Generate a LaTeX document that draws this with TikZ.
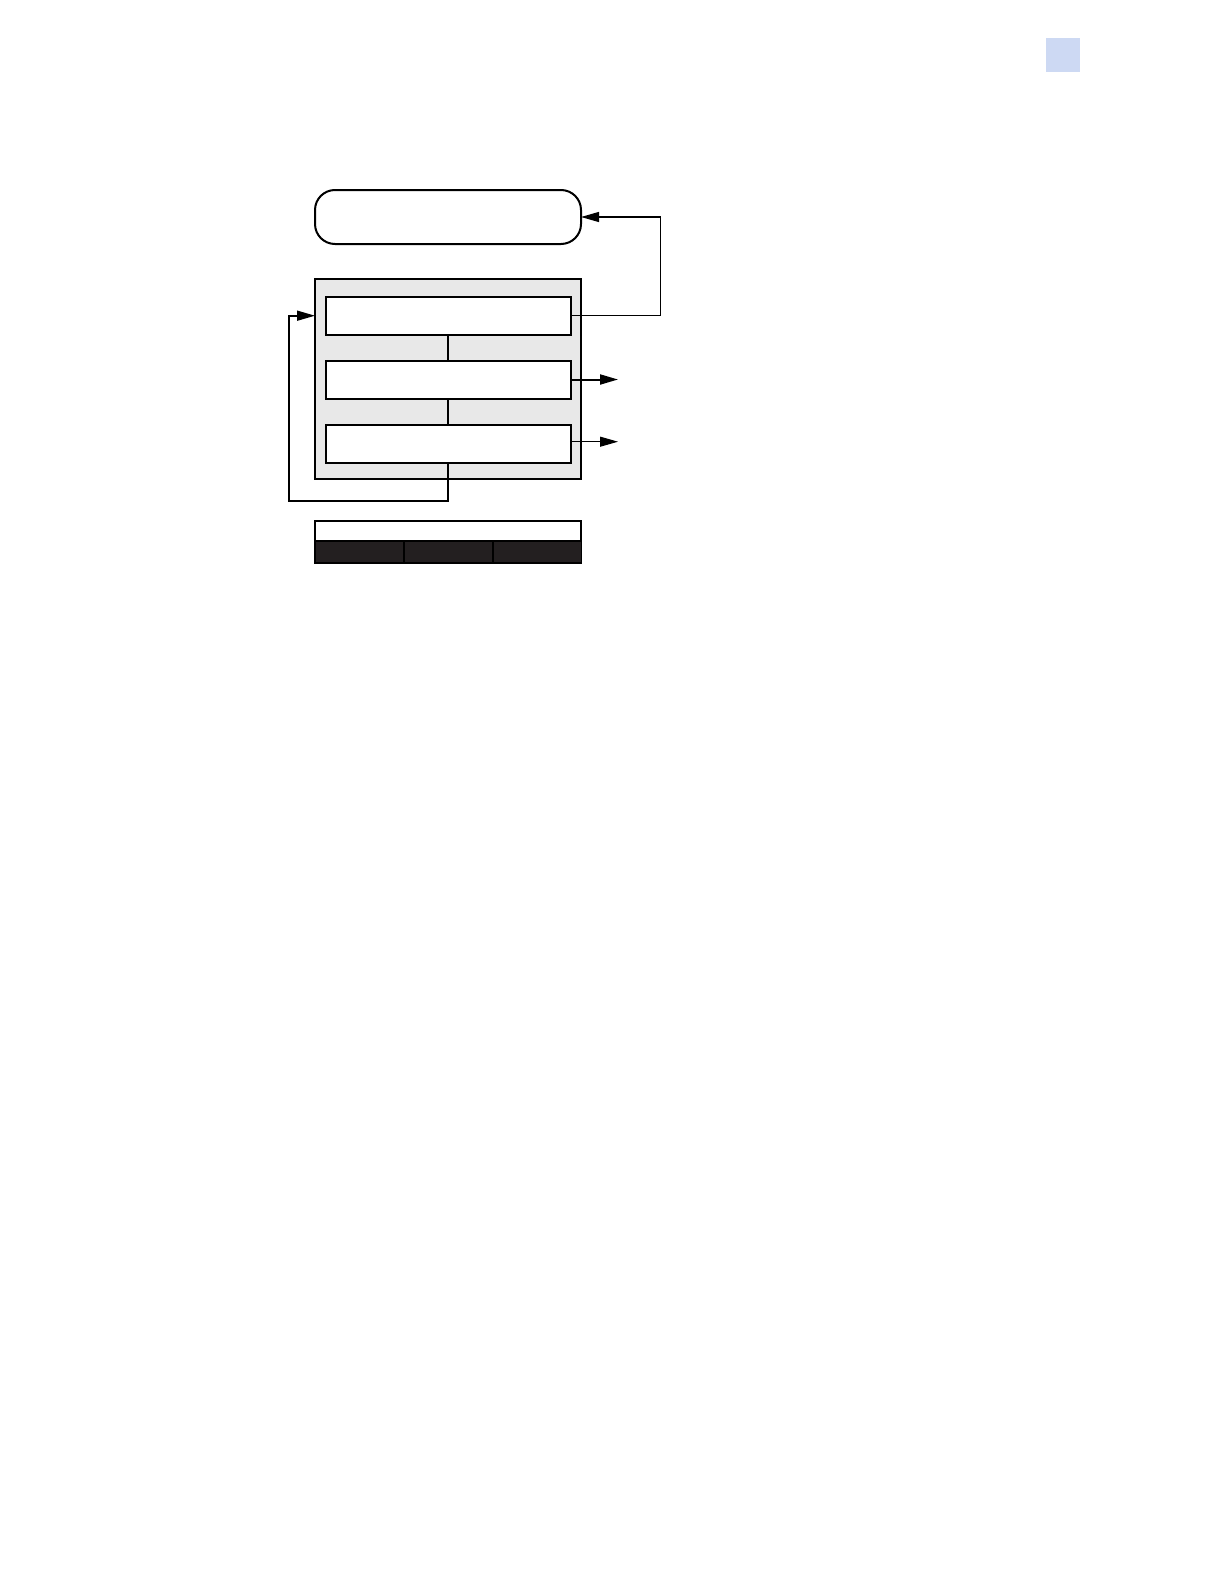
\documentclass[tikz,border=0pt]{standalone}
\usepackage{tikz}
\usetikzlibrary{arrows.meta,calc,positioning}
\definecolor{panelgray}{HTML}{E8E8E8}
\definecolor{bardark}{HTML}{231F20}
\definecolor{tabblue}{HTML}{CDD9F3}

\begin{document}
\begin{tikzpicture}[x=0.5pt,y=-0.5pt,
		box/.style={draw,line width=1pt,fill=white,minimum width=122.5pt,minimum height=19pt,inner sep=0pt,outer sep=0pt},
		cell/.style={draw,line width=0.8pt,fill=bardark,minimum width=44.3pt,minimum height=10.8pt,inner sep=0pt,outer sep=0pt},
		tip/.style={-{Triangle[length=9pt,width=5pt]}}]
		\useasboundingbox (0,0) rectangle (1224,1584);
		\node[fill=tabblue,minimum size=17pt,inner sep=0pt] (tab) at (1063,54.7) {};
		\node[draw,line width=1pt,rounded corners=10pt,minimum width=133pt,minimum height=27pt,inner sep=0pt,outer sep=0pt] (top) at (448,217) {};
		\node[draw,line width=0.6pt,fill=panelgray,minimum width=133pt,minimum height=100pt,inner sep=0pt,outer sep=0pt] (panel) at (448,379) {};
		\node[box] (b1) at (448,315.7) {};
		\node[box] (b2) at (448,380) {};
		\node[box] (b3) at (448,443.8) {};
		\draw[line width=1pt] (b1.south) -- (b2.north);
		\draw[line width=1pt] (b2.south) -- (b3.north);
		% outputs
		\coordinate (out2) at (618,379.5);
		\coordinate (out3) at (618,441.7);
		\coordinate (loop) at (289,500.7);
		\draw[tip,line width=0.6pt] (b1.east) -- ++(90,0) |- (top.east);
		\draw[tip,line width=1pt] (b2.east |- out2) -- (out2);
		\draw[tip,line width=0.5pt] (b3.east |- out3) -- (out3);
		\draw[tip,line width=0.8pt] (b3.south) |- (loop) |- (panel.west |- b1.west);
		% bar
		\node[draw,line width=0.8pt,fill=white,minimum width=133pt,minimum height=10.2pt,inner sep=0pt,outer sep=0pt] (bar) at (448,531) {};
		\node[cell] (c1) at (359,552) {};
		\node[cell] (c2) at (448,552) {};
		\node[cell] (c3) at (537,552) {};
\end{tikzpicture}
\end{document}
